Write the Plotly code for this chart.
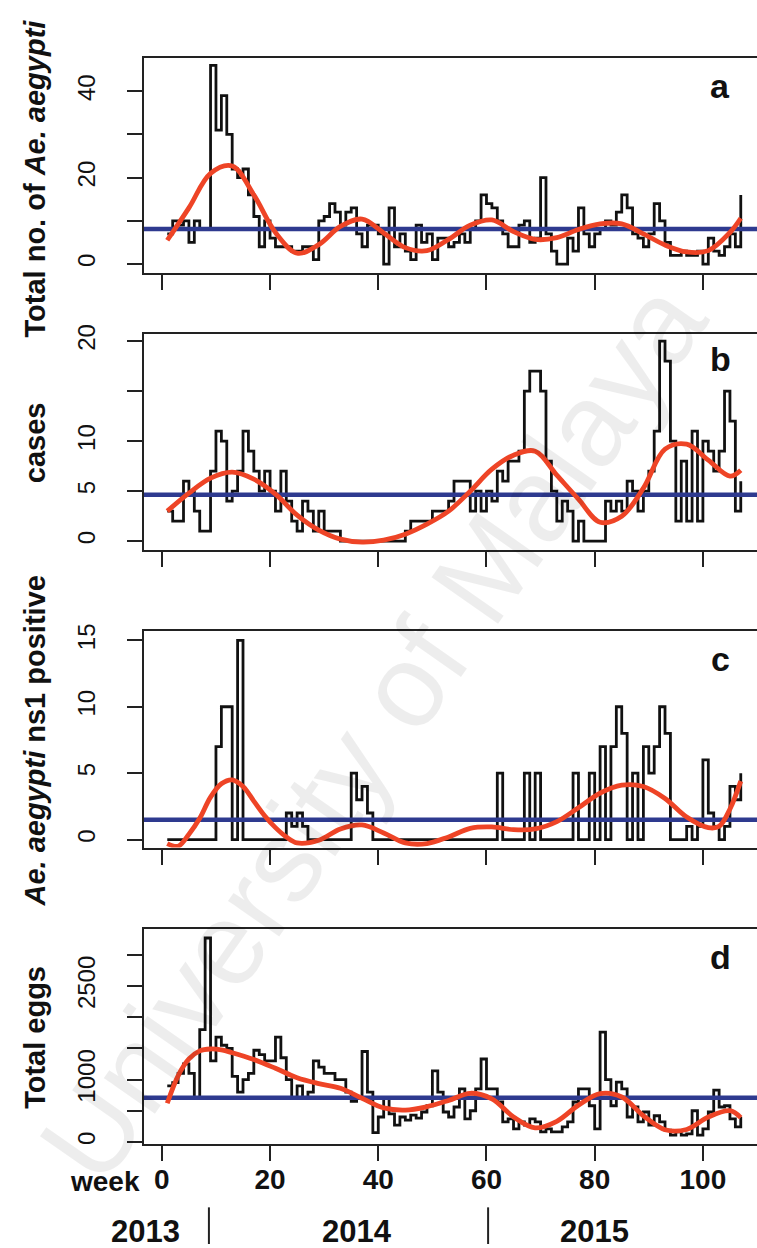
import plotly.graph_objects as go

# ---------------- data ----------------
weeks = list(range(1, 108))

mosq_total = [7,10,9,10,5,10,8,8,46,31, 39,30,22,20,22,16,11,4,10,6,
              4,4,4,3,3,4,4,1,10,11, 14,12,9,12,13,7,4,9,9,7,
              0,13,4,7,3,1,9,5,7,1, 6,6,4,5,7,5,8,10,16,14,
              13,10,7,4,4,9,10,5,6,20, 7,3,0,0,6,3,13,7,4,7,
              8,10,9,12,16,13,7,6,4,7, 14,10,5,2,2,3,2,2,3,0,
              6,3,2,4,7,4,16]

cases = [3,2,2,6,5,3,1,1,7,11, 10,4,5,7,11,9,7,5,7,5,
         3,7,4,2,1,4,3,1,3,1, 1,1,0,0,0,0,0,0,0,0,
         0,0,0,0,1,2,2,2,2,3, 3,3,4,6,6,6,3,5,3,5,
         4,7,6,8,8,9,15,17,17,15, 8,5,2,4,3,0,2,0,0,0,
         0,4,3,4,3,6,5,3,5,7, 11,20,18,10,2,8,2,11,2,10,
         9,7,9,15,12,3,6]

ns1_pos = [0,0,0,0,0,0,0,0,0,7, 10,10,0,15,0,0,0,0,0,0,
           0,0,2,1,2,1,0,0,0,0, 0,0,0,0,5,3,4,2,0,0,
           0,0,0,0,0,0,0,0,0,0, 0,0,0,0,0,0,0,0,0,0,
           0,5,0,0,0,0,5,0,5,0, 0,0,0,0,0,5,0,0,5,0,
           7,0,7,10,8,0,5,0,7,5, 7,10,8,0,0,0,1,0,1,6,
           2,1,0,1,4,3,5]

eggs = [900,950,1100,1250,1100,700,1800,3270,1300,1680,
        1550,1500,1050,800,1000,1100,1470,1400,1300,1300,
        1680,1350,1000,700,900,700,800,1300,1200,1100,
        1100,1000,1000,800,650,700,1450,800,150,400,
        700,450,270,400,350,430,380,480,580,1140,
        800,480,400,560,850,370,500,850,1330,850,
        850,640,320,370,210,320,270,370,320,160,
        210,160,160,240,320,640,850,850,580,210,
        1760,1000,580,960,850,400,560,320,480,270,
        420,320,190,110,160,110,130,500,110,210,
        480,830,560,580,370,240,400]

# smoothed (red) curves, read at selected weeks
smooth_weeks = [1,5,9,13,17,21,25,29,33,37,41,45,49,53,57,61,65,69,73,77,81,85,89,93,97,101,105,107]
smooth_mosq = [5.5,13,21,22.7,16,7.3,2.5,4.5,8.7,10.4,7.2,3.8,3.1,5.7,9,10.2,7.5,5.7,6.1,8.0,9.3,9.3,7,4.4,2.8,3.1,7.3,10.6]
smooth_cases = [3.0,4.8,6.3,6.9,6.2,4.7,2.6,1.1,0.2,-0.1,0.1,0.7,1.7,3.0,5.0,7.2,8.6,9.0,6.6,4.2,1.9,2.5,5.3,9.2,9.7,8.1,6.5,7.1]
smooth_weeks_ns1 = [1,3,5,7,9,11,13,15,17,19,21,23,25,29,33,37,41,45,49,53,57,61,65,69,73,77,81,85,89,93,97,101,103,105,107]
smooth_ns1 = [-0.3,-0.5,0.4,1.6,3.2,4.2,4.5,4.0,2.9,1.8,0.9,0.2,-0.25,-0.05,0.8,1.1,0.5,-0.25,-0.3,0.2,0.85,0.95,0.75,0.8,1.35,2.4,3.5,4.1,4.0,3.1,1.7,0.9,1.0,2.3,4.4]
smooth_weeks_eggs = [1,3,5,7,9,11,13,17,21,25,29,33,37,41,45,49,53,57,61,65,69,73,77,81,85,89,93,97,101,105,107]
smooth_eggs = [620,1060,1330,1460,1490,1475,1430,1320,1180,1030,935,860,700,545,510,565,665,780,690,400,225,330,590,775,720,420,195,200,400,500,390]

# mean levels (blue lines)
mean_mosq = 8.1
mean_cases = 4.65
mean_ns1 = 1.5
mean_eggs = 708

year_labels = ["2013", "2014", "2015"]
year_label_weeks = [-3.1, 36.0, 79.9]
year_break_weeks = [8.7, 60.3]
xtick_vals = [0, 20, 40, 60, 80, 100]

# ---------------- figure ----------------
W, H = 757, 1248
FONT = "Liberation Sans, Arial, sans-serif"
BLACK = "#111111"
RED = "#EE4426"
BLUE = "#2E3A8F"

x_range = [-3.3, 110.0]
x_domain = [144 / W, 1.0]

panels = [
    dict(y=mosq_total, sx=smooth_weeks, sy=smooth_mosq, mean=mean_mosq,
         top=48, bottom=265, yr=[-2.0, 47.8],
         tv=[0, 10, 20, 30, 40], tt=["0", "", "20", "", "40"],
         title="Total no. of <i>Ae. aegypti</i>", title_y=170, letter="a", letter_y=77),
    dict(y=cases, sx=smooth_weeks, sy=smooth_cases, mean=mean_cases,
         top=327, bottom=545, yr=[-0.9, 20.7],
         tv=[0, 5, 10, 15, 20], tt=["0", "5", "10", "", "20"],
         title="cases", title_y=437, letter="b", letter_y=352),
    dict(y=ns1_pos, sx=smooth_weeks_ns1, sy=smooth_ns1, mean=mean_ns1,
         top=627, bottom=845, yr=[-0.6, 15.67],
         tv=[0, 5, 10, 15], tt=["0", "5", "10", "15"],
         title="<i>Ae. aegypti</i> ns1 positive", title_y=738, letter="c", letter_y=655),
    dict(y=eggs, sx=smooth_weeks_eggs, sy=smooth_eggs, mean=mean_eggs,
         top=927, bottom=1144, yr=[-32, 3417],
         tv=[0, 500, 1000, 1500, 2000, 2500, 3000], tt=["0", "", "1000", "", "", "2500", ""],
         title="Total eggs", title_y=1037, letter="d", letter_y=955),
]

fig = go.Figure()
annotations = []
shapes = []
layout = {}

# faint watermark (drawn first so it sits under the other annotations)
annotations.append(dict(text="University of Malaya", x=372 / W, y=1 - 728 / H, xref="paper", yref="paper",
                        xanchor="center", yanchor="middle", textangle=-55, showarrow=False,
                        font=dict(family=FONT, size=118, color="rgba(0,0,0,0.07)")))

for i, p in enumerate(panels, start=1):
    xa = "x" if i == 1 else f"x{i}"
    ya = "y" if i == 1 else f"y{i}"
    fig.add_trace(go.Scatter(x=weeks, y=p["y"], mode="lines", line=dict(color=BLACK, width=2.8),
                             line_shape="hv", xaxis=xa, yaxis=ya, showlegend=False, hoverinfo="skip"))
    fig.add_trace(go.Scatter(x=x_range, y=[p["mean"], p["mean"]], mode="lines",
                             line=dict(color=BLUE, width=4.5), xaxis=xa, yaxis=ya,
                             showlegend=False, hoverinfo="skip"))
    fig.add_trace(go.Scatter(x=p["sx"], y=p["sy"], mode="lines",
                             line=dict(color=RED, width=4.8, shape="spline", smoothing=1.0),
                             xaxis=xa, yaxis=ya, showlegend=False, hoverinfo="skip"))

    dom = [1 - p["bottom"] / H, 1 - p["top"] / H]
    xkey = "xaxis" if i == 1 else f"xaxis{i}"
    ykey = "yaxis" if i == 1 else f"yaxis{i}"
    layout[xkey] = dict(domain=x_domain, range=x_range, anchor=ya, showgrid=False, zeroline=False,
                        showline=True, linecolor="#222", linewidth=2, mirror=True,
                        ticks="outside", ticklen=15, tickwidth=2, tickcolor="#222",
                        tickvals=xtick_vals, showticklabels=(i == 4),
                        tickfont=dict(family=FONT, size=28, color="#111", weight="bold"),
                        ticklabelstandoff=-6)
    layout[ykey] = dict(domain=dom, range=p["yr"], anchor=xa, showgrid=False, zeroline=False,
                        showline=True, linecolor="#222", linewidth=2, mirror=False,
                        ticks="outside", ticklen=15, tickwidth=2, tickcolor="#222",
                        tickvals=p["tv"], ticktext=p["tt"], tickangle=-90,
                        tickfont=dict(family=FONT, size=24, color="#111"),
                        ticklabelstandoff=22)
    annotations.append(dict(text=p["title"], x=35 / W, y=1 - p["title_y"] / H, xref="paper", yref="paper",
                            xanchor="center", yanchor="middle", textangle=-90, showarrow=False,
                            font=dict(family=FONT, size=29, color="#111", weight="bold")))
    annotations.append(dict(text=p["letter"], x=720 / W, y=1 - p["letter_y"] / H, xref="paper", yref="paper",
                            xanchor="center", yanchor="middle", showarrow=False,
                            font=dict(family=FONT, size=34, color="#111", weight="bold")))

annotations.append(dict(text="week", x=142 / W, y=1 - 1182 / H, xref="paper", yref="paper",
                        xanchor="right", yanchor="middle", showarrow=False,
                        font=dict(family=FONT, size=28, color="#111", weight="bold")))
for lab, wk in zip(year_labels, year_label_weeks):
    annotations.append(dict(text=lab, x=wk, y=1 - 1232 / H, xref="x4", yref="paper",
                            xanchor="center", yanchor="middle", showarrow=False,
                            font=dict(family=FONT, size=31, color="#111", weight="bold")))
for wk in year_break_weeks:
    shapes.append(dict(type="line", x0=wk, x1=wk, y0=1 - 1208 / H, y1=1 - 1245 / H,
                       xref="x4", yref="paper", line=dict(color="#222", width=2)))

fig.update_layout(width=W, height=H, margin=dict(l=0, r=0, t=0, b=0),
                  paper_bgcolor="white", plot_bgcolor="white",
                  annotations=annotations, shapes=shapes, **layout)

fig.write_html("out.html")
